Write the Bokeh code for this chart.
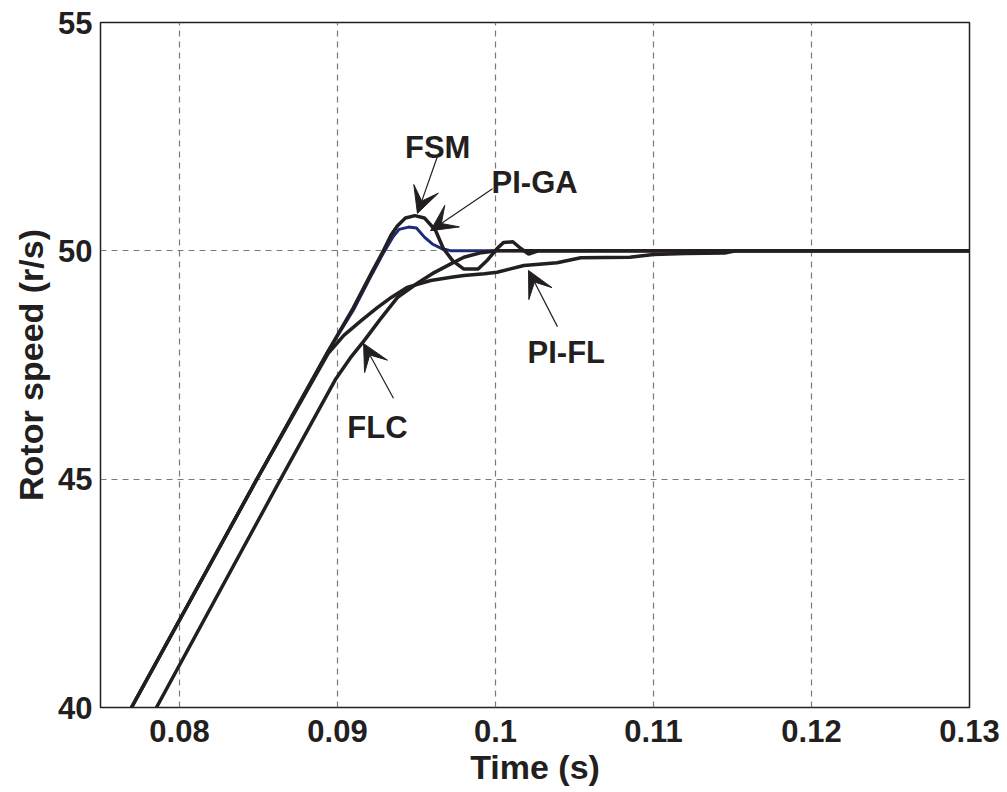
from bokeh.plotting import figure
from bokeh.models import Range1d, FixedTicker, Arrow, VeeHead
from bokeh.embed import file_html
from bokeh.resources import INLINE
from bokeh.core.properties import value

# Rotor speed responses (time in s, speed in r/s)
t_fsm = [0.07696, 0.0849, 0.0894, 0.0910, 0.0922, 0.0929, 0.0934, 0.0938, 0.0943,
         0.0949, 0.0955, 0.0962, 0.0967, 0.0973, 0.0980, 0.0989, 0.0995, 0.1001,
         0.1005, 0.1011, 0.1016, 0.1021, 0.1027, 0.13]
w_fsm = [40.0, 45.0, 47.8, 48.75, 49.55, 50.0, 50.35, 50.55, 50.72,
         50.77, 50.72, 50.45, 50.05, 49.78, 49.6, 49.6, 49.8, 50.05,
         50.18, 50.2, 50.05, 49.93, 50.0, 50.0]

t_piga = [0.07696, 0.0849, 0.0894, 0.0910, 0.0922, 0.0929, 0.0935, 0.0939, 0.0945,
          0.0950, 0.0955, 0.0960, 0.0966, 0.0972, 0.0980, 0.13]
w_piga = [40.0, 45.0, 47.8, 48.7, 49.5, 49.95, 50.3, 50.47, 50.52,
          50.5, 50.3, 50.15, 50.05, 50.0, 50.0, 50.0]

t_pifl = [0.07696, 0.0849, 0.0894, 0.0904, 0.0915, 0.0925, 0.0934, 0.0944, 0.0959,
          0.0972, 0.0980, 0.0993, 0.1001, 0.1018, 0.1039, 0.1054, 0.1085, 0.1100,
          0.1120, 0.1145, 0.1152, 0.13]
w_pifl = [40.0, 45.0, 47.75, 48.15, 48.47, 48.75, 48.98, 49.2, 49.35,
          49.42, 49.46, 49.5, 49.53, 49.68, 49.74, 49.85, 49.86, 49.92,
          49.94, 49.95, 50.0, 50.0]

t_flc = [0.07854, 0.0864, 0.0899, 0.0908, 0.0917, 0.0927, 0.0938, 0.0951, 0.0960,
         0.0972, 0.0980, 0.0991, 0.1001, 0.13]
w_flc = [40.0, 45.0, 47.2, 47.65, 48.04, 48.5, 48.98, 49.3, 49.5,
         49.72, 49.86, 49.96, 50.0, 50.0]

x_ticks = [0.08, 0.09, 0.10, 0.11, 0.12, 0.13]
x_tick_labels = ["0.08", "0.09", "0.1", "0.11", "0.12", "0.13"]
y_ticks = [40, 45, 50, 55]

# Curve annotations: label, text anchor, arrow tail, arrow tip
ann_names = ["FSM", "PI-GA", "PI-FL", "FLC"]
ann_text_x = [0.09634, 0.09975, 0.10203, 0.09253]
ann_text_y = [52.26, 51.5, 47.77, 46.13]
ann_tail_x = [0.09639, 0.09981, 0.10392, 0.09354]
ann_tail_y = [52.13, 51.36, 48.34, 46.77]
ann_tip_x = [0.09506, 0.09589, 0.10209, 0.09165]
ann_tip_y = [50.82, 50.44, 49.57, 47.97]
ann_align = ["center", "left", "left", "center"]

INK = "#231f20"
NAVY = "#1f2a78"
FONT = "Liberation Sans"

p = figure(frame_width=869, frame_height=685,
           x_range=Range1d(0.075, 0.13), y_range=Range1d(40, 55),
           output_backend="svg", toolbar_location=None,
           min_border_left=100, min_border_right=38,
           min_border_top=22, min_border_bottom=85)

p.background_fill_color = "white"
p.border_fill_color = "white"
p.outline_line_color = INK
p.outline_line_width = 1.5

for ax in (p.xaxis[0], p.yaxis[0]):
    ax.axis_line_color = None
    ax.major_tick_line_color = None
    ax.minor_tick_line_color = None
    ax.major_tick_out = 0
    ax.major_tick_in = 0
    ax.major_label_text_font = FONT
    ax.major_label_text_font_style = "bold"
    ax.major_label_text_font_size = "31px"
    ax.major_label_text_color = INK
    ax.axis_label_text_font = FONT
    ax.axis_label_text_font_style = "bold"
    ax.axis_label_text_font_size = "34px"
    ax.axis_label_text_color = INK

p.xaxis.ticker = FixedTicker(ticks=x_ticks)
p.xaxis.major_label_overrides = dict(zip(x_ticks, x_tick_labels))
p.xaxis.major_label_standoff = 12
p.xaxis.axis_label = "Time (s)"
p.xaxis.axis_label_standoff = 3

p.yaxis.ticker = FixedTicker(ticks=y_ticks)
p.yaxis.major_label_standoff = 8
p.yaxis.axis_label = "Rotor speed (r/s)"
p.yaxis.axis_label_standoff = 5

for g in (p.xgrid[0], p.ygrid[0]):
    g.grid_line_color = "#7a7a7a"
    g.grid_line_dash = "6 5"
    g.grid_line_width = 1.2

# Response curves
p.line(t_piga, w_piga, line_color=NAVY, line_width=3)
p.line(t_pifl, w_pifl, line_color=INK, line_width=3.5)
p.line(t_flc, w_flc, line_color=INK, line_width=3.5)
p.line(t_fsm, w_fsm, line_color=INK, line_width=3.5)

# Labels with arrows
for i, name in enumerate(ann_names):
    p.add_layout(Arrow(end=VeeHead(size=26, fill_color=INK, line_color=INK),
                       x_start=ann_tail_x[i], y_start=ann_tail_y[i],
                       x_end=ann_tip_x[i], y_end=ann_tip_y[i],
                       line_color=INK, line_width=1.2))
    p.text(x=[ann_text_x[i]], y=[ann_text_y[i]], text=[name],
           text_font=value(FONT), text_font_style="bold", text_font_size="31px",
           text_color=INK, text_align=ann_align[i], text_baseline="alphabetic")

open("out.html", "w").write(file_html(p, INLINE))
